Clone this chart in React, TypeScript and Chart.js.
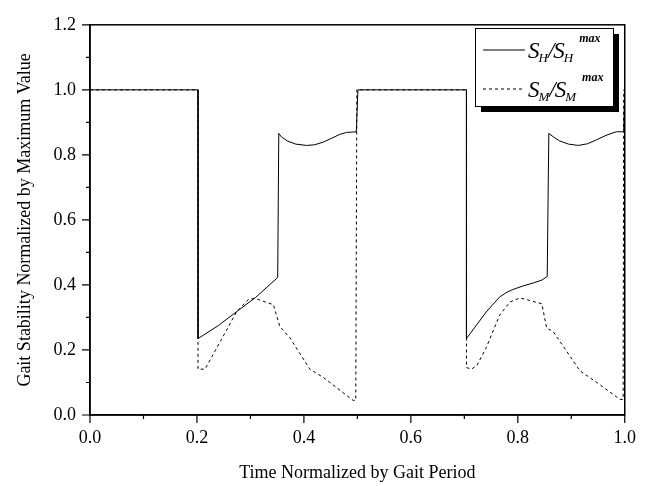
import React, { useEffect, useRef } from "react";
import { Chart, registerables } from "chart.js";

Chart.register(...registerables);

// S_H / S_H^max (solid)
const hX = [0, 0.202, 0.202, 0.24, 0.28, 0.31, 0.351, 0.353, 0.358, 0.37, 0.385, 0.405, 0.42, 0.436, 0.452, 0.467, 0.48, 0.498, 0.501, 0.704, 0.704, 0.723, 0.741, 0.766, 0.78, 0.791, 0.81, 0.829, 0.845, 0.855, 0.858, 0.866, 0.878, 0.895, 0.913, 0.93, 0.947, 0.965, 0.984, 0.998, 1.0];
const hY = [1.0, 1.0, 0.235, 0.275, 0.325, 0.362, 0.423, 0.866, 0.855, 0.842, 0.833, 0.829, 0.831, 0.839, 0.851, 0.863, 0.869, 0.871, 1.0, 1.0, 0.235, 0.277, 0.317, 0.363, 0.378, 0.386, 0.397, 0.406, 0.415, 0.426, 0.866, 0.856, 0.843, 0.833, 0.829, 0.834, 0.846, 0.86, 0.871, 0.871, 1.0];

// S_M / S_M^max (dashed)
const mX = [0, 0.202, 0.202, 0.215, 0.245, 0.274, 0.296, 0.308, 0.343, 0.355, 0.374, 0.411, 0.436, 0.492, 0.497, 0.499, 0.704, 0.704, 0.713, 0.723, 0.741, 0.766, 0.785, 0.804, 0.823, 0.845, 0.854, 0.866, 0.891, 0.916, 0.947, 0.991, 0.997, 0.998];
const mY = [1.0, 1.0, 0.141, 0.141, 0.23, 0.317, 0.355, 0.359, 0.339, 0.272, 0.237, 0.141, 0.116, 0.045, 0.045, 1.0, 1.0, 0.146, 0.141, 0.151, 0.207, 0.307, 0.347, 0.36, 0.352, 0.342, 0.267, 0.257, 0.197, 0.136, 0.101, 0.048, 0.048, 1.0];

const xMajorTicks = [0, 0.2, 0.4, 0.6, 0.8, 1.0];
const xMinorTicks = [0.1, 0.3, 0.5, 0.7, 0.9];
const yMajorTicks = [0, 0.2, 0.4, 0.6, 0.8, 1.0, 1.2];
const yMinorTicks = [0.1, 0.3, 0.5, 0.7, 0.9, 1.1];

const xTitle = "Time Normalized by Gait Period";
const yTitle = "Gait Stability Normalized by Maximum Value";

const SERIF = "'Liberation Serif', 'Times New Roman', 'DejaVu Serif', serif";

const toPts = (xs: number[], ys: number[]) => xs.map((x, i) => ({ x, y: ys[i] }));

const framePlugin = {
  id: "frameTicks",
  afterDraw(chart: any) {
    const ctx = chart.ctx;
    const { left, right, top, bottom } = chart.chartArea;
    const xs = chart.scales.x;
    const ys = chart.scales.y;
    ctx.save();
    ctx.strokeStyle = "#000";
    ctx.lineWidth = 1.5;
    ctx.strokeRect(left, top, right - left, bottom - top);
    ctx.lineWidth = 1.2;
    ctx.beginPath();
    xMajorTicks.forEach((v) => {
      const p = xs.getPixelForValue(v);
      ctx.moveTo(p, bottom);
      ctx.lineTo(p, bottom + 8);
    });
    xMinorTicks.forEach((v) => {
      const p = xs.getPixelForValue(v);
      ctx.moveTo(p, bottom);
      ctx.lineTo(p, bottom + 4);
    });
    yMajorTicks.forEach((v) => {
      const p = ys.getPixelForValue(v);
      ctx.moveTo(left, p);
      ctx.lineTo(left - 8, p);
    });
    yMinorTicks.forEach((v) => {
      const p = ys.getPixelForValue(v);
      ctx.moveTo(left, p);
      ctx.lineTo(left - 4, p);
    });
    ctx.stroke();

    // legend
    const bx = 475, by = 28, bw = 138, bh = 78, sh = 6;
    ctx.fillStyle = "#000";
    ctx.fillRect(bx + sh, by + sh, bw, bh);
    ctx.fillStyle = "#fff";
    ctx.fillRect(bx, by, bw, bh);
    ctx.lineWidth = 1;
    ctx.strokeRect(bx + 0.5, by + 0.5, bw, bh);

    const entry = (y: number, sub: string, dashed: boolean) => {
      ctx.beginPath();
      ctx.setLineDash(dashed ? [3, 3] : []);
      ctx.lineWidth = 1;
      ctx.moveTo(483, y);
      ctx.lineTo(525, y);
      ctx.stroke();
      ctx.setLineDash([]);
      ctx.fillStyle = "#000";
      ctx.textBaseline = "alphabetic";
      ctx.textAlign = "left";
      let x = 528;
      const base = y + 8;
      ctx.font = `italic 23px ${SERIF}`;
      ctx.fillText("S", x, base);
      x += ctx.measureText("S").width;
      ctx.font = `italic 13px ${SERIF}`;
      ctx.fillText(sub, x - 1, base + 4);
      x += ctx.measureText(sub).width - 1;
      ctx.font = `italic 23px ${SERIF}`;
      ctx.fillText("/", x, base);
      x += ctx.measureText("/").width - 1;
      ctx.fillText("S", x, base);
      x += ctx.measureText("S").width;
      ctx.font = `italic 13px ${SERIF}`;
      ctx.fillText(sub, x - 1, base + 4);
      x += ctx.measureText(sub).width + 5;
      ctx.font = `italic bold 12px ${SERIF}`;
      ctx.fillText("max", x, base - 16);
    };
    entry(50, "H", false);
    entry(89, "M", true);
    ctx.restore();
  },
};

export default function App() {
  const ref = useRef<HTMLCanvasElement>(null);
  useEffect(() => {
    if (!ref.current) return;
    const chart = new Chart(ref.current, {
      type: "line",
      data: {
        datasets: [
          {
            label: "SH/SHmax",
            data: toPts(hX, hY),
            borderColor: "#000",
            borderWidth: 1,
            pointRadius: 0,
            tension: 0,
            fill: false,
          },
          {
            label: "SM/SMmax",
            data: toPts(mX, mY),
            borderColor: "#000",
            borderWidth: 1,
            borderDash: [3, 3],
            pointRadius: 0,
            tension: 0,
            fill: false,
          },
        ],
      },
      options: {
        responsive: false,
        animation: false,
        layout: { padding: { top: 18, right: 23, left: 0, bottom: 0 } },
        plugins: { legend: { display: false }, tooltip: { enabled: false } },
        scales: {
          x: {
            type: "linear",
            min: 0,
            max: 1,
            afterFit: (s: any) => {
              s.height = 71;
            },
            afterBuildTicks: (s: any) => {
              s.ticks = xMajorTicks.map((v) => ({ value: v }));
            },
            grid: { display: false, drawTicks: false },
            border: { display: true, color: "#000", width: 1.5 },
            ticks: {
              color: "#000",
              font: { family: SERIF, size: 18 },
              padding: 12,
              autoSkip: false,
              maxRotation: 0,
              callback: (v: any) => Number(v).toFixed(1),
            },
            title: {
              display: true,
              text: xTitle,
              color: "#000",
              font: { family: SERIF, size: 18 },
              padding: { top: 0, bottom: 2 },
            },
          },
          y: {
            type: "linear",
            min: 0,
            max: 1.2,
            afterFit: (s: any) => {
              s.width = 90;
            },
            afterBuildTicks: (s: any) => {
              s.ticks = yMajorTicks.map((v) => ({ value: v }));
            },
            grid: { display: false, drawTicks: false },
            border: { display: true, color: "#000", width: 1.5 },
            ticks: {
              color: "#000",
              font: { family: SERIF, size: 18 },
              padding: 14,
              autoSkip: false,
              callback: (v: any) => Number(v).toFixed(1),
            },
            title: {
              display: true,
              text: yTitle,
              color: "#000",
              font: { family: SERIF, size: 18 },
              padding: { top: 14, bottom: 0 },
            },
          },
        },
      },
      plugins: [framePlugin],
    } as any);
    return () => chart.destroy();
  }, []);
  return (
    <div style={{ position: "fixed", left: 0, top: 0, width: 648, height: 486, background: "#fff" }}>
      <canvas ref={ref} width={648} height={486} style={{ display: "block" }} />
    </div>
  );
}
